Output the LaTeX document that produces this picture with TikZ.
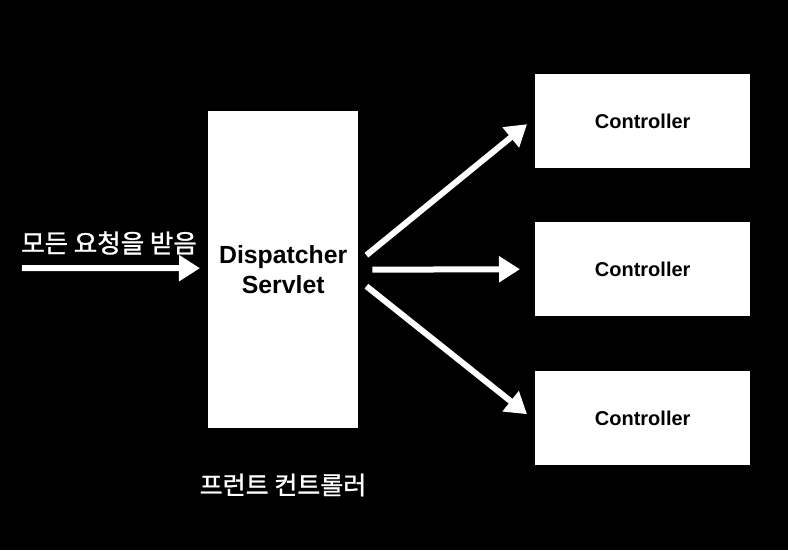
\documentclass[tikz,border=0pt]{standalone}
\usepackage{fontspec}
\setmainfont{Liberation Sans}
\newfontfamily\kr[FakeBold=1.2]{Noto Sans CJK KR}
\usetikzlibrary{arrows.meta}
\begin{document}
\begin{tikzpicture}[x=1pt,y=-1pt,
  box/.style={draw=none,fill=white,inner sep=0pt,anchor=north west},
  arr/.style={draw=white,line width=6pt,-{Triangle[length=21pt,width=25pt]}},
  lbl/.style={text=white,font=\kr\fontsize{25.5}{30}\selectfont,inner sep=0pt}]
\fill[black] (0,0) rectangle (788,550);
\useasboundingbox (0,0) rectangle (788,550);
\node[box,minimum width=150pt,minimum height=317pt,
  align=center,font=\bfseries\fontsize{24.8}{30}\selectfont] (d) at (208,111)
  {Dispatcher\\Servlet};
\node[box,minimum width=215pt,minimum height=94pt,font=\bfseries\fontsize{20}{24}\selectfont] (c1) at (535,74) {Controller};
\node[box,minimum width=215pt,minimum height=94pt,font=\bfseries\fontsize{20}{24}\selectfont] (c2) at (535,222) {Controller};
\node[box,minimum width=215pt,minimum height=94pt,font=\bfseries\fontsize{20}{24}\selectfont] (c3) at (535,371) {Controller};
\coordinate (in) at (22,268);
\node[lbl,anchor=west] (t1) at (21,243) {모든 요청을 받음};
\node[lbl,font=\kr\fontsize{25}{30}\selectfont] (t2) at (283,485) {프런트 컨트롤러};
\draw[arr] (in) -- ([xshift=-8pt,yshift=1.5pt]d.west);
\draw[arr] ([xshift=8pt,yshift=14.5pt]d.east) -- ([xshift=-8pt,yshift=-3pt]c1.west);
\draw[arr] ([xshift=14pt]d.east) -- ([xshift=-15pt]c2.west);
\draw[arr] ([xshift=8pt,yshift=-16.5pt]d.east) -- ([xshift=-8pt,yshift=4pt]c3.west);
\end{tikzpicture}
\end{document}
